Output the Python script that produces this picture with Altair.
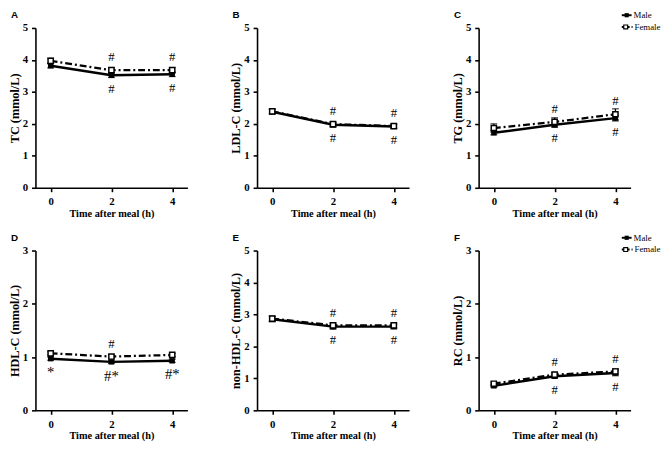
import altair as alt
import pandas as pd

times = [0, 2, 4]
panel_letters = ["A", "B", "C", "D", "E", "F"]
y_titles = ["TC (mmol/L)", "LDL-C (mmol/L)", "TG (mmol/L)",
            "HDL-C (mmol/L)", "non-HDL-C (mmol/L)", "RC (mmol/L)"]
y_max = [5, 5, 5, 3, 5, 3]
legend_labels = ["Male", "Female"]
x_title = "Time after meal (h)"

# values (mmol/L)
tc_male = [3.82, 3.52, 3.55]
tc_female = [3.97, 3.68, 3.68]
tc_male_err = [0.07, 0.07, 0.07]
tc_female_err = [0.08, 0.08, 0.08]

ldl_male = [2.38, 1.97, 1.92]
ldl_female = [2.39, 1.99, 1.93]
ldl_male_err = [0.07, 0.07, 0.06]
ldl_female_err = [0.07, 0.07, 0.06]

tg_male = [1.72, 1.97, 2.18]
tg_female = [1.87, 2.06, 2.30]
tg_male_err = [0.06, 0.08, 0.09]
tg_female_err = [0.13, 0.13, 0.17]

hdl_male = [0.97, 0.91, 0.93]
hdl_female = [1.07, 1.01, 1.04]
hdl_male_err = [0.03, 0.03, 0.03]
hdl_female_err = [0.03, 0.03, 0.03]

nonhdl_male = [2.85, 2.62, 2.62]
nonhdl_female = [2.87, 2.66, 2.66]
nonhdl_male_err = [0.08, 0.08, 0.07]
nonhdl_female_err = [0.08, 0.08, 0.07]

rc_male = [0.46, 0.64, 0.70]
rc_female = [0.50, 0.67, 0.73]
rc_male_err = [0.03, 0.04, 0.05]
rc_female_err = [0.03, 0.04, 0.05]

# significance marks: above female series / below male series
a_up_t, a_up_l, a_dn_t, a_dn_l = [2, 4], ["#", "#"], [2, 4], ["#", "#"]
b_up_t, b_up_l, b_dn_t, b_dn_l = [2, 4], ["#", "#"], [2, 4], ["#", "#"]
c_up_t, c_up_l, c_dn_t, c_dn_l = [2, 4], ["#", "#"], [2, 4], ["#", "#"]
d_up_t, d_up_l, d_dn_t, d_dn_l = [2], ["#"], [0, 2, 4], ["*", "#*", "#*"]
e_up_t, e_up_l, e_dn_t, e_dn_l = [2, 4], ["#", "#"], [2, 4], ["#", "#"]
f_up_t, f_up_l, f_dn_t, f_dn_l = [2, 4], ["#", "#"], [2, 4], ["#", "#"]

W, H = 155, 163
SERIF = "Liberation Serif"


def panel(letter, ytitle, ymax, male, female, male_err, female_err,
          up_t, up_l, dn_t, dn_l, legend, dn_size=13):
    dm = pd.DataFrame({"t": times, "v": male,
                       "lo": [v - e for v, e in zip(male, male_err)],
                       "hi": [v + e for v, e in zip(male, male_err)]})
    dfm = pd.DataFrame({"t": times, "v": female,
                        "lo": [v - e for v, e in zip(female, female_err)],
                        "hi": [v + e for v, e in zip(female, female_err)]})
    xs = alt.Scale(domain=[-0.5, 4.5], nice=False)
    ys = alt.Scale(domain=[0, ymax], nice=False)
    xa = alt.Axis(values=times, title=x_title, format="d")
    ya = alt.Axis(values=list(range(ymax + 1)), title=ytitle, format="d")

    def X():
        return alt.X("t:Q", scale=xs, axis=xa)

    def Y(f):
        return alt.Y(f + ":Q", scale=ys, axis=ya)

    layers = []
    for d in (dm, dfm):
        base = alt.Chart(d)
        layers.append(base.mark_rule(color="black", strokeWidth=1.3).encode(
            x=X(), y=Y("lo"), y2="hi:Q"))
        layers.append(base.mark_tick(color="black", orient="horizontal",
                                     size=7, thickness=1.3).encode(x=X(), y=Y("hi")))
        layers.append(base.mark_tick(color="black", orient="horizontal",
                                     size=7, thickness=1.3).encode(x=X(), y=Y("lo")))
    layers.append(alt.Chart(dm).mark_line(color="black", strokeWidth=2.5).encode(
        x=X(), y=Y("v")))
    layers.append(alt.Chart(dfm).mark_line(color="black", strokeWidth=2.3,
                                           strokeDash=[7, 3, 2, 3]).encode(
        x=X(), y=Y("v")))
    layers.append(alt.Chart(dm).mark_point(shape="square", filled=True, color="black",
                                           size=30, opacity=1).encode(x=X(), y=Y("v")))
    layers.append(alt.Chart(dfm).mark_point(shape="square", filled=True, fill="white",
                                            stroke="black", strokeWidth=1.5,
                                            size=28, opacity=1).encode(x=X(), y=Y("v")))

    up_v = [female[times.index(t)] for t in up_t]
    dn_v = [male[times.index(t)] for t in dn_t]
    up_df = pd.DataFrame({"t": up_t, "v": up_v, "lab": up_l})
    dn_df = pd.DataFrame({"t": dn_t, "v": dn_v, "lab": dn_l})
    layers.append(alt.Chart(up_df).mark_text(font=SERIF, fontSize=13, dy=-13,
                                             baseline="middle", color="black").encode(
        x=X(), y=Y("v"), text="lab:N"))
    layers.append(alt.Chart(dn_df).mark_text(font=SERIF, fontSize=dn_size, dy=14,
                                             baseline="middle", color="black").encode(
        x=X(), y=Y("v"), text="lab:N"))

    letter_df = pd.DataFrame({"lab": [letter]})
    layers.append(alt.Chart(letter_df).mark_text(
        font="Liberation Sans", fontWeight="bold", fontSize=10, align="left",
        baseline="alphabetic", color="black").encode(
        x=alt.value(-25), y=alt.value(-10), text="lab:N"))

    if legend:
        lm = pd.DataFrame({"lab": [legend_labels[0]]})
        lf = pd.DataFrame({"lab": [legend_labels[1]]})
        ym, yf = -13, -1
        layers.append(alt.Chart(lm).mark_rule(color="black", strokeWidth=2).encode(
            x=alt.value(146), x2=alt.value(156), y=alt.value(ym)))
        layers.append(alt.Chart(lm).mark_point(shape="square", filled=True, color="black",
                                               size=18, opacity=1).encode(
            x=alt.value(151), y=alt.value(ym)))
        layers.append(alt.Chart(lm).mark_text(font=SERIF, fontSize=9, align="left",
                                              baseline="middle", color="black").encode(
            x=alt.value(158), y=alt.value(ym), text="lab:N"))
        layers.append(alt.Chart(lf).mark_rule(color="black", strokeWidth=2,
                                              strokeDash=[3, 2]).encode(
            x=alt.value(146), x2=alt.value(157), y=alt.value(yf)))
        layers.append(alt.Chart(lf).mark_point(shape="square", filled=True, fill="white",
                                               stroke="black", strokeWidth=1.2,
                                               size=16, opacity=1).encode(
            x=alt.value(150), y=alt.value(yf)))
        layers.append(alt.Chart(lf).mark_text(font=SERIF, fontSize=9, align="left",
                                              baseline="middle", color="black").encode(
            x=alt.value(159), y=alt.value(yf), text="lab:N"))

    return alt.layer(*layers).properties(width=W, height=H)


pA = panel("A", y_titles[0], y_max[0], tc_male, tc_female, tc_male_err, tc_female_err,
           a_up_t, a_up_l, a_dn_t, a_dn_l, False)
pB = panel("B", y_titles[1], y_max[1], ldl_male, ldl_female, ldl_male_err, ldl_female_err,
           b_up_t, b_up_l, b_dn_t, b_dn_l, False)
pC = panel("C", y_titles[2], y_max[2], tg_male, tg_female, tg_male_err, tg_female_err,
           c_up_t, c_up_l, c_dn_t, c_dn_l, True)
pD = panel("D", y_titles[3], y_max[3], hdl_male, hdl_female, hdl_male_err, hdl_female_err,
           d_up_t, d_up_l, d_dn_t, d_dn_l, False, dn_size=15)
pE = panel("E", y_titles[4], y_max[4], nonhdl_male, nonhdl_female, nonhdl_male_err,
           nonhdl_female_err, e_up_t, e_up_l, e_dn_t, e_dn_l, False)
pF = panel("F", y_titles[5], y_max[5], rc_male, rc_female, rc_male_err, rc_female_err,
           f_up_t, f_up_l, f_dn_t, f_dn_l, True)

chart = alt.concat(pA, pB, pC, pD, pE, pF, columns=3,
                   spacing={"row": 64, "column": 71}, bounds="flush").properties(
    padding={"left": 0, "top": -2, "right": 0, "bottom": 0}
).configure_view(stroke=None).configure_axis(
    grid=False,
    domainColor="black", domainWidth=1.6,
    tickColor="black", tickWidth=1.6, tickSize=4,
    labelFont=SERIF, labelFontWeight="bold", labelFontSize=11, labelColor="black",
    labelPadding=4,
    titleFont=SERIF, titleFontWeight="bold", titleColor="black",
).configure_axisX(
    titleFontSize=10.5, titlePadding=2
).configure_axisY(
    titleFontSize=12.5, titlePadding=1
)

chart.save("out.html", embed_options={"renderer": "svg", "actions": False})
